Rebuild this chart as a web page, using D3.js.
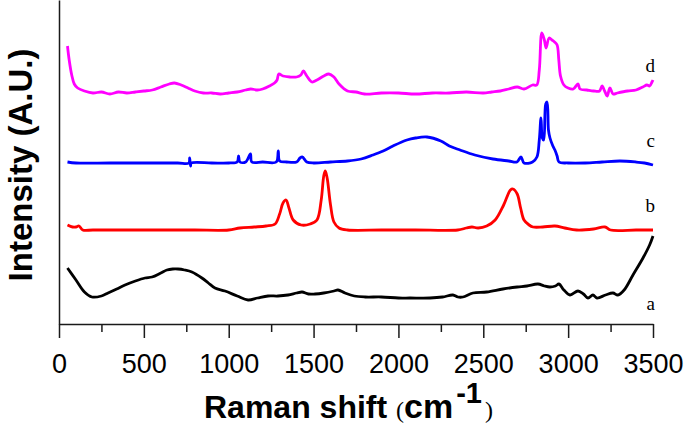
<!DOCTYPE html>
<html>
<head>
<meta charset="utf-8">
<script src="https://cdn.jsdelivr.net/npm/d3@7"></script>
<style>
  html, body { margin: 0; padding: 0; background: #fff; }
  svg { display: block; }
</style>
</head>
<body>
<script>
// ---- data (Raman shift in cm-1, intensity in arbitrary units, offset traces) ----
const xTicks = [0, 500, 1000, 1500, 2000, 2500, 3000, 3500];
const xMinorTicks = [250, 750, 1250, 1750, 2250, 2750, 3250];
const seriesNames = ["a", "b", "c", "d"];
const seriesColors = ["#000000", "#ff0000", "#0000ff", "#ff00ff"];

const spectrumA = [[50,268],[100,280],[150,292],[194,297],[250,296],[289,293],[340,289],[389,285],[450,281],[507,278],[548,277],[600,273],[636,270],[670,269],[701,269],[740,270],[783,272],[842,278],[880,283],[919,288],[978,291],[1050,296],[1114,300],[1170,298],[1232,296],[1290,296],[1349,295],[1400,293],[1432,292],[1470,294],[1508,294],[1560,293],[1620,291],[1644,290],[1685,293],[1740,296],[1803,297],[1900,297],[2000,298],[2068,298],[2186,298],[2260,297],[2321,295],[2350,297],[2380,297],[2439,293],[2520,292],[2616,289],[2700,287],[2757,286],[2822,284],[2860,286],[2893,287],[2925,286],[2946,284],[2975,290],[3011,295],[3058,291],[3090,294],[3117,298],[3146,295],[3170,298],[3220,295],[3264,293],[3293,295],[3330,290],[3382,275],[3441,258],[3480,245],[3500,236]];

const spectrumB = [[50,225],[80,227],[100,227],[118,226],[140,230],[200,230],[400,230],[600,230],[800,230],[1000,230],[1066,228],[1150,227],[1220,226],[1273,224],[1300,214],[1320,203],[1338,200],[1355,208],[1380,220],[1427,225],[1480,224],[1520,220],[1545,200],[1560,176],[1569,171],[1580,178],[1600,205],[1620,222],[1650,228],[1700,230],[1900,230],[2100,230],[2350,230],[2400,228],[2433,227],[2470,228],[2520,226],[2570,220],[2620,205],[2660,190],[2675,189],[2700,194],[2720,208],[2740,220],[2770,225],[2793,227],[2850,227],[2922,226],[2980,228],[3050,230],[3150,229],[3217,227],[3250,230],[3400,230],[3500,230]];

const spectrumC = [[50,162],[100,163],[300,163],[500,163],[700,163],[765,163],[770,158],[775,166],[780,163],[900,163],[1000,163],[1050,162],[1058,156],[1066,162],[1100,162],[1128,154],[1136,162],[1200,162],[1280,162],[1292,151],[1300,161],[1340,162],[1400,162],[1420,158],[1435,157],[1445,159],[1460,162],[1500,163],[1600,162],[1700,161],[1780,159],[1850,155],[1910,151],[1968,146],[2050,140],[2100,138],[2168,137],[2250,141],[2300,146],[2363,150],[2450,155],[2557,159],[2650,161],[2698,162],[2722,157],[2740,163],[2790,162],[2816,157],[2830,140],[2840,118],[2848,138],[2856,140],[2868,104],[2876,102],[2884,130],[2893,138],[2910,146],[2922,150],[2935,156],[2946,162],[3000,163],[3100,163],[3200,162],[3305,161],[3400,162],[3450,163],[3500,165]];

const spectrumD = [[50,46],[60,60],[75,75],[90,84],[110,88],[150,91],[200,93],[250,92],[300,94],[350,92],[400,93],[450,92],[500,91],[550,90],[600,87],[650,84],[680,83],[720,85],[760,88],[800,91],[850,93],[900,93],[950,94],[1000,93],[1050,92],[1100,90],[1130,89],[1170,90],[1200,89],[1240,86],[1270,83],[1285,80],[1295,74],[1320,76],[1360,77],[1400,77],[1425,75],[1440,71],[1460,76],[1490,82],[1520,80],[1560,76],[1590,74],[1620,77],[1650,84],[1700,91],[1750,92],[1800,94],[1900,93],[2000,93],[2100,94],[2200,93],[2300,93],[2400,92],[2500,93],[2550,92],[2600,91],[2650,89],[2700,87],[2740,89],[2790,85],[2815,85],[2830,70],[2845,33],[2860,40],[2870,48],[2888,38],[2905,40],[2920,42],[2935,45],[2945,60],[2955,76],[2975,85],[3000,88],[3030,89],[3058,84],[3070,89],[3110,90],[3150,91],[3185,91],[3200,86],[3215,91],[3230,96],[3246,88],[3265,94],[3290,93],[3350,91],[3400,90],[3440,87],[3464,85],[3480,86],[3494,82],[3500,80]];

// ---- layout ----
const W = 685, H = 425;
const margin = { left: 59, right: 32, top: 0, bottom: 101 };
const plotBottom = H - margin.bottom; // 324

const svg = d3.select("body").append("svg")
  .attr("width", W).attr("height", H)
  .attr("viewBox", `0 0 ${W} ${H}`);

const x = d3.scaleLinear().domain([0, 3500]).range([margin.left, W - margin.right]);
// traces are stacked on a shared arbitrary-unit scale (pixel-read offsets)
const y = d3.scaleLinear().domain([0, plotBottom]).range([plotBottom, 0]);

const allSpectra = [spectrumA, spectrumB, spectrumC, spectrumD];
const line = d3.line()
  .x(d => x(d[0]))
  .y(d => y(plotBottom - d[1]))
  .curve(d3.curveCatmullRom.alpha(0.5));

svg.append("g").selectAll("path")
  .data(allSpectra)
  .join("path")
  .attr("d", line)
  .attr("fill", "none")
  .attr("stroke", (d, i) => seriesColors[i])
  .attr("stroke-width", 2.8)
  .attr("stroke-linejoin", "round");

// ---- axes ----
const axisColor = "#1a1a1a";
const xAxis = svg.append("g")
  .attr("transform", `translate(0,${plotBottom})`)
  .call(d3.axisBottom(x).tickValues(xTicks).tickSize(14).tickSizeOuter(0).tickFormat(d3.format("d")));
xAxis.select(".domain").attr("stroke", axisColor).attr("stroke-width", 1.5);
xAxis.selectAll(".tick line").attr("stroke", axisColor).attr("stroke-width", 1.5);
xAxis.selectAll(".tick text")
  .attr("y", 49).attr("dy", null)
  .attr("fill", "#000")
  .style("font-family", "'Liberation Sans', Arial, sans-serif")
  .style("font-size", "27px");

const xMinor = svg.append("g")
  .attr("transform", `translate(0,${plotBottom})`)
  .call(d3.axisBottom(x).tickValues(xMinorTicks).tickSize(8).tickSizeOuter(0).tickFormat(""));
xMinor.select(".domain").remove();
xMinor.selectAll(".tick line").attr("stroke", axisColor).attr("stroke-width", 1.5);

const yAxis = svg.append("g")
  .attr("transform", `translate(${margin.left},0)`)
  .call(d3.axisLeft(y).tickValues([]).tickSizeOuter(0));
yAxis.select(".domain").attr("stroke", axisColor).attr("stroke-width", 1.5);

// ---- series labels ----
const labelY = [310, 212, 147, 72];
svg.append("g").selectAll("text")
  .data(seriesNames)
  .join("text")
  .attr("x", 655)
  .attr("y", (d, i) => labelY[i])
  .attr("text-anchor", "end")
  .style("font-family", "'Liberation Serif', 'Times New Roman', serif")
  .style("font-size", "19px")
  .attr("fill", "#000")
  .text(d => d);

// ---- axis titles ----
const xTitle = svg.append("text")
  .attr("x", 204).attr("y", 418)
  .attr("fill", "#000")
  .style("font-family", "'Liberation Sans', Arial, sans-serif");
xTitle.append("tspan").style("font-weight", "bold").style("font-size", "32px").text("Raman shift ");
xTitle.append("tspan").style("font-family", "'Liberation Serif', serif").style("font-size", "24px").text("(");
xTitle.append("tspan").style("font-weight", "bold").style("font-size", "34px").text("cm");
xTitle.append("tspan").style("font-weight", "bold").style("font-size", "29px").attr("dy", -15).attr("dx", 3).text("-1");
xTitle.append("tspan").style("font-family", "'Liberation Serif', serif").style("font-size", "24px").attr("dy", 15).attr("dx", 3).text(")");

svg.append("text")
  .attr("transform", "translate(32,165) rotate(-90)")
  .attr("text-anchor", "middle")
  .attr("fill", "#000")
  .style("font-family", "'Liberation Sans', Arial, sans-serif")
  .style("font-weight", "bold")
  .style("font-size", "33px")
  .text("Intensity (A.U.)");
</script>
</body>
</html>
